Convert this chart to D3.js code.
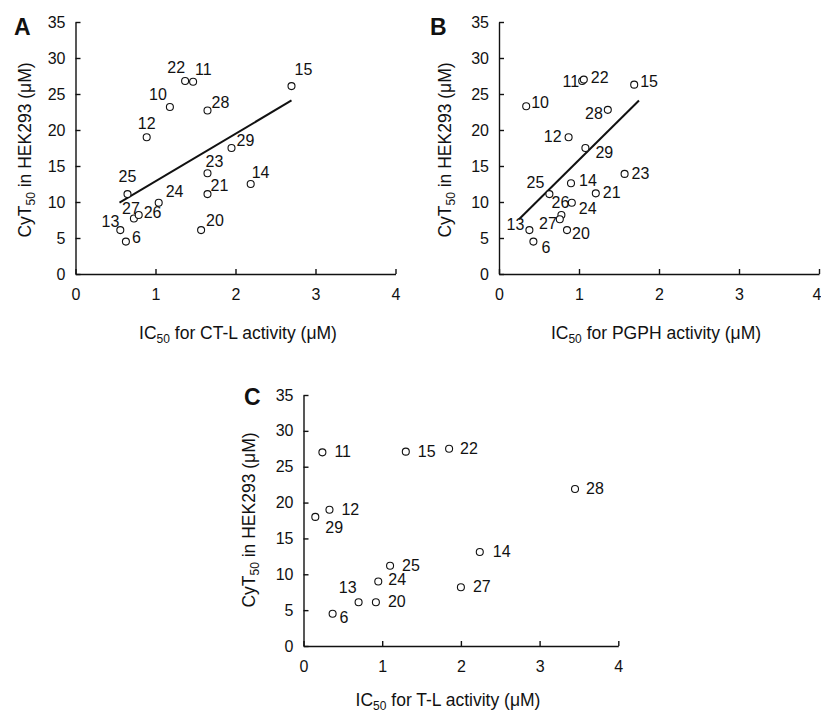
<!DOCTYPE html>
<html>
<head>
<meta charset="utf-8">
<script src="https://d3js.org/d3.v7.min.js"></script>
<style>
  body { margin: 0; background: #fff; }
  svg { display: block; }
  text { font-family: "Liberation Sans", Arial, sans-serif; fill: #111; }
</style>
</head>
<body>
<script>

  // axis ticks (shared by the three panels)
  var ticksX = [0, 1, 2, 3, 4];
  var ticksY = [0, 5, 10, 15, 20, 25, 30, 35];

  // panel A: IC50 for CT-L activity vs CyT50
  var idsA = ["15", "22", "11", "10", "28", "12", "29", "23", "14", "25", "21", "24", "27", "26", "13", "6", "20"];
  var xA   = [2.70, 1.37, 1.47, 1.18, 1.65, 0.89, 1.95, 1.65, 2.19, 0.65, 1.65, 1.04, 0.73, 0.79, 0.56, 0.63, 1.57];
  var yA   = [26.1, 26.8, 26.7, 23.2, 22.7, 19.0, 17.5, 14.0, 12.5, 11.1, 11.1, 9.9, 7.7, 8.2, 6.1, 4.5, 6.1];
  var trendA = [[0.55, 9.9], [2.70, 24.1]];

  // panel B: IC50 for PGPH activity vs CyT50
  var idsB = ["15", "11", "22", "10", "28", "12", "29", "23", "14", "25", "21", "24", "26", "27", "13", "6", "20"];
  var xB   = [1.69, 1.04, 1.06, 0.34, 1.36, 0.87, 1.08, 1.57, 0.90, 0.63, 1.21, 0.91, 0.78, 0.76, 0.38, 0.43, 0.85];
  var yB   = [26.3, 26.8, 27.0, 23.3, 22.8, 19.0, 17.5, 13.9, 12.6, 11.1, 11.2, 9.9, 8.2, 7.6, 6.1, 4.5, 6.1];
  var trendB = [[0.25, 7.6], [1.75, 24.1]];

  // panel C: IC50 for T-L activity vs CyT50
  var idsC = ["11", "15", "22", "28", "12", "29", "14", "25", "24", "27", "13", "20", "6"];
  var xC   = [0.24, 1.30, 1.85, 3.45, 0.33, 0.15, 2.24, 1.10, 0.95, 2.00, 0.70, 0.92, 0.37];
  var yC   = [27.0, 27.1, 27.5, 21.9, 19.0, 18.0, 13.1, 11.2, 9.0, 8.2, 6.1, 6.1, 4.5];

  // label placement [dx, dy, anchor] in px, same order as ids
  var labA = [[3,-11,"start"],[0,-8,"end"],[2,-7,"start"],[-3,-7,"end"],[4,-3,"start"],[0,-8,"middle"],
              [5,-2,"start"],[-2,-6,"start"],[1,-6,"start"],[0,-12,"middle"],[3,-3,"start"],[7,-6,"start"],
              [-3,-5,"middle"],[5,3,"start"],[-1,-3,"end"],[6,1,"start"],[5,-4,"start"]];
  var labB = [[6,2,"start"],[-3,6,"end"],[7,3,"start"],[5,2,"start"],[-5,9,"end"],[-7,5,"end"],
              [10,10,"start"],[7,5,"start"],[8,3,"start"],[-5,-6,"end"],[7,5,"start"],[7,11,"start"],
              [-1,-7,"middle"],[-3,10,"end"],[-5,0,"end"],[8,11,"start"],[5,9,"start"]];
  var labC = [[12,5,"start"],[12,5,"start"],[11,5,"start"],[11,5,"start"],[12,5,"start"],[10,16,"start"],
              [13,5,"start"],[12,5,"start"],[10,4,"start"],[12,5,"start"],[-2,-9,"end"],[12,5,"start"],
              [7,9,"start"]];

  var svg = d3.select("body").append("svg")
    .attr("width", 821)
    .attr("height", 722);

  svg.append("rect").attr("width", 821).attr("height", 722).attr("fill", "#fff");

  var panels = [
    { letter: "A", ids: idsA, xs: xA, ys: yA, lab: labA, trend: trendA, xr: [75.5, 395.5], yr: [274, 22],
      lx: 14, ly: 35, ytx: 31, yty: 150, xtitle: "for CT-L activity (\u03bcM)", xtx: 238, xty: 339 },
    { letter: "B", ids: idsB, xs: xB, ys: yB, lab: labB, trend: trendB, xr: [499, 819], yr: [274, 22],
      lx: 430, ly: 35, ytx: 451, yty: 150, xtitle: "for PGPH activity (\u03bcM)", xtx: 656, xty: 339 },
    { letter: "C", ids: idsC, xs: xC, ys: yC, lab: labC, trend: null, xr: [303.5, 618.3], yr: [646, 395],
      lx: 244, ly: 405, ytx: 255, yty: 520, xtitle: "for T-L activity (\u03bcM)", xtx: 448, xty: 706 }
  ];

  panels.forEach(function(p) {
    var x = d3.scaleLinear().domain([0, 4]).range(p.xr);
    var y = d3.scaleLinear().domain([0, 35]).range(p.yr);
    var g = svg.append("g");

    var ax = g.append("g")
      .attr("transform", "translate(0," + p.yr[0] + ")")
      .call(d3.axisBottom(x).tickValues(ticksX).tickFormat(d3.format("d"))
        .tickSizeInner(-5).tickSizeOuter(0).tickPadding(15));
    var ay = g.append("g")
      .attr("transform", "translate(" + p.xr[0] + ",0)")
      .call(d3.axisLeft(y).tickValues(ticksY).tickFormat(d3.format("d"))
        .tickSizeInner(-5).tickSizeOuter(0).tickPadding(10));

    [ax, ay].forEach(function(a) {
      a.attr("font-size", 16).attr("font-family", null);
      a.selectAll("path, line").attr("stroke", "#111").attr("stroke-width", 1.4);
      a.selectAll("text").attr("fill", "#111");
    });

    // keep the last tick label inside the page edge
    ax.selectAll(".tick text")
      .filter(function(d) { return x(d) > 812; })
      .attr("text-anchor", "end")
      .attr("x", 821 - x(4));

    if (p.trend) {
      g.append("path")
        .datum(p.trend)
        .attr("fill", "none")
        .attr("stroke", "#111")
        .attr("stroke-width", 2)
        .attr("d", d3.line().x(function(d) { return x(d[0]); }).y(function(d) { return y(d[1]); }));
    }

    var pts = p.ids.map(function(id, i) {
      return { id: id, x: p.xs[i], y: p.ys[i], lab: p.lab[i] };
    });

    g.selectAll("circle")
      .data(pts)
      .enter().append("circle")
      .attr("cx", function(d) { return x(d.x); })
      .attr("cy", function(d) { return y(d.y); })
      .attr("r", 3.5)
      .attr("fill", "#fff")
      .attr("stroke", "#111")
      .attr("stroke-width", 1.1);

    g.selectAll("text.lbl")
      .data(pts)
      .enter().append("text")
      .attr("class", "lbl")
      .attr("x", function(d) { return x(d.x) + d.lab[0]; })
      .attr("y", function(d) { return y(d.y) + d.lab[1]; })
      .attr("text-anchor", function(d) { return d.lab[2]; })
      .attr("font-size", 16)
      .text(function(d) { return d.id; });

    // panel letter
    g.append("text")
      .attr("x", p.lx).attr("y", p.ly)
      .attr("font-size", 23)
      .attr("font-weight", "bold")
      .text(p.letter);

    // y title
    var yt = g.append("text")
      .attr("transform", "translate(" + p.ytx + "," + p.yty + ") rotate(-90)")
      .attr("text-anchor", "middle")
      .attr("font-size", 17.5);
    yt.append("tspan").text("CyT");
    yt.append("tspan").attr("font-size", 12).attr("dy", 4).text("50");
    yt.append("tspan").attr("dy", -4).text(" in HEK293 (\u03bcM)");

    // x title
    var xt = g.append("text")
      .attr("x", p.xtx).attr("y", p.xty)
      .attr("text-anchor", "middle")
      .attr("font-size", 17.5);
    xt.append("tspan").text("IC");
    xt.append("tspan").attr("font-size", 12).attr("dy", 4).text("50");
    xt.append("tspan").attr("dy", -4).text(" " + p.xtitle);
  });

</script>
</body>
</html>
